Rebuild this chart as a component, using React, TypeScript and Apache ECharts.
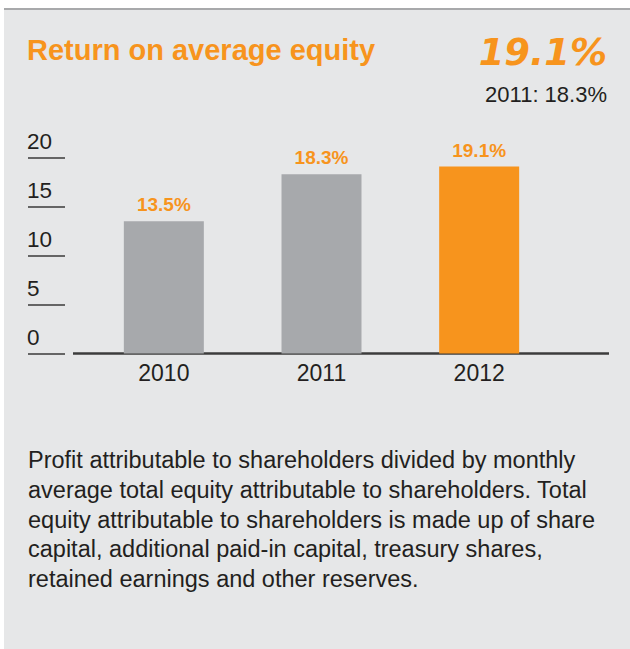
import React, { useEffect, useRef } from "react";
import * as echarts from "echarts";

const categories = ["2010", "2011", "2012"];
const values = [13.5, 18.3, 19.1];
const barColors = ["#a7a9ac", "#a7a9ac", "#f7941d"];
const yMin = 0;
const yMax = 20;
const yInterval = 5;

const titleText = "Return on average equity";
const headlineText = "19.1%";
const priorText = "2011: 18.3%";
const descriptionLines = [
  "Profit attributable to shareholders divided by monthly",
  "average total equity attributable to shareholders. Total",
  "equity attributable to shareholders is made up of share",
  "capital, additional paid-in capital, treasury shares,",
  "retained earnings and other reserves.",
];

const ORANGE = "#f7941d";
const TEXT = "#231f20";
const FONT = "'Liberation Sans', Arial, Helvetica, sans-serif";

export default function App() {
  const ref = useRef<HTMLDivElement>(null);

  useEffect(() => {
    if (!ref.current) return;
    const chart = echarts.init(ref.current, undefined, { renderer: "svg" });

    const descGraphics = descriptionLines.map((line, i) => ({
      type: "text",
      x: 28,
      y: 460 + i * 29.8,
      style: {
        text: line,
        fill: TEXT,
        fontSize: 23.5,
        fontFamily: FONT,
        align: "left",
        verticalAlign: "middle",
      },
    }));

    chart.setOption({
      animation: false,
      backgroundColor: "#e6e7e8",
      grid: { left: 85, right: 72, top: 157.7, bottom: 295.5, containLabel: false },
      xAxis: {
        type: "category",
        data: categories,
        axisLine: { show: false },
        axisTick: { show: false },
        axisLabel: { fontSize: 23, color: TEXT, fontFamily: FONT, margin: 8 },
      },
      yAxis: {
        type: "value",
        min: yMin,
        max: yMax,
        interval: yInterval,
        offset: 20,
        axisLine: { show: false },
        axisTick: { show: true, length: 37, lineStyle: { color: "#3a3a3a", width: 1.5 } },
        axisLabel: {
          align: "left",
          margin: 38,
          verticalAlign: "bottom",
          fontSize: 22.5,
          color: TEXT,
          fontFamily: FONT,
          padding: [0, 0, 5, 0],
        },
        splitLine: { show: false },
      },
      series: [
        {
          type: "bar",
          barWidth: 80,
          data: values.map((v, i) => ({ value: v, itemStyle: { color: barColors[i] } })),
          label: {
            show: true,
            position: "top",
            distance: 7,
            formatter: "{c}%",
            color: ORANGE,
            fontSize: 19,
            fontWeight: "bold",
            fontFamily: FONT,
          },
        },
      ],
      graphic: [
        { type: "rect", shape: { x: 0, y: 0, width: 630, height: 8 }, style: { fill: "#ffffff" } },
        { type: "rect", shape: { x: 0, y: 0, width: 4, height: 649 }, style: { fill: "#ffffff" } },
        {
          type: "line",
          shape: { x1: 4, y1: 9, x2: 630, y2: 9 },
          style: { stroke: "#a8a9ab", lineWidth: 2 },
        },
        {
          type: "line",
          shape: { x1: 73, y1: 353.5, x2: 609, y2: 353.5 },
          style: { stroke: "#3c3c3c", lineWidth: 2.5 },
        },
        {
          type: "text",
          x: 27,
          y: 50,
          style: {
            text: titleText,
            fill: ORANGE,
            fontSize: 29,
            fontWeight: "bold",
            fontFamily: FONT,
            align: "left",
            verticalAlign: "middle",
          },
        },
        {
          type: "text",
          x: 607,
          y: 52,
          style: {
            text: headlineText,
            fill: ORANGE,
            fontSize: 37,
            fontWeight: "bold",
            fontStyle: "italic",
            fontFamily: "'DejaVu Sans', sans-serif",
            align: "right",
            verticalAlign: "middle",
          },
        },
        {
          type: "text",
          x: 607,
          y: 94,
          style: {
            text: priorText,
            fill: TEXT,
            fontSize: 22,
            fontFamily: FONT,
            align: "right",
            verticalAlign: "middle",
          },
        },
        ...descGraphics,
      ],
    });

    return () => chart.dispose();
  }, []);

  return (
    <div
      ref={ref}
      style={{ position: "fixed", left: 0, top: 0, width: 630, height: 649 }}
    />
  );
}
